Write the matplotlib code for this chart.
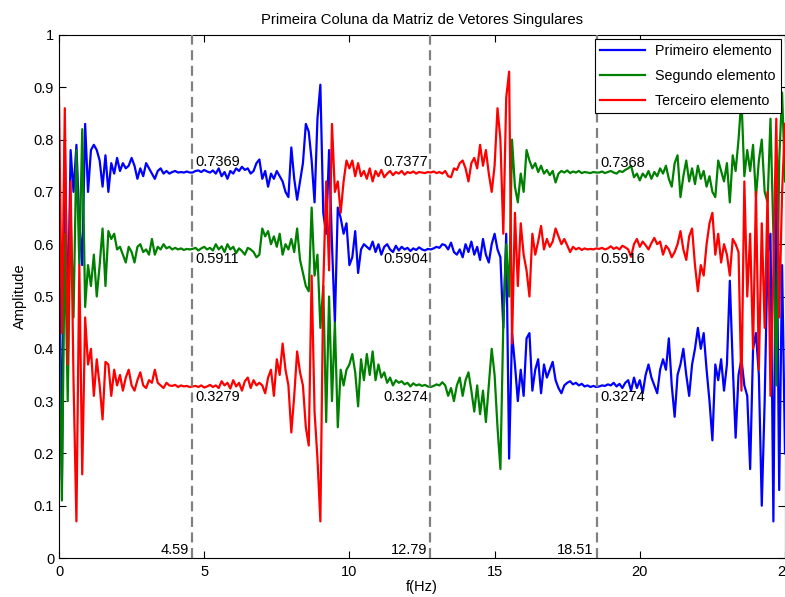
import numpy as np
import matplotlib.pyplot as plt

# frequency grid (Hz), one sample every 0.1 Hz
freq = np.linspace(0, 25, 251)

# first column of the singular-vector matrix
primeiro = [
    0.66, 0.15, 0.80, 0.45, 0.78, 0.70, 0.79, 0.64, 0.56, 0.83,
    0.70, 0.78, 0.79, 0.78, 0.76, 0.71, 0.77, 0.70, 0.755, 0.735,
    0.765, 0.74, 0.755, 0.745, 0.75, 0.765, 0.75, 0.725, 0.745, 0.73,
    0.755, 0.745, 0.735, 0.725, 0.74, 0.745, 0.735, 0.74, 0.735, 0.738,
    0.74, 0.737, 0.738, 0.737, 0.739, 0.737, 0.737, 0.74, 0.741, 0.738,
    0.742, 0.739, 0.737, 0.741, 0.735, 0.745, 0.73, 0.738, 0.725, 0.74,
    0.735, 0.745, 0.74, 0.748, 0.742, 0.745, 0.735, 0.74, 0.755, 0.762,
    0.725, 0.74, 0.71, 0.735, 0.725, 0.74, 0.73, 0.72, 0.70, 0.69,
    0.785, 0.725, 0.685, 0.72, 0.755, 0.83, 0.815, 0.76, 0.68, 0.84,
    0.905, 0.66, 0.62, 0.78, 0.60, 0.45, 0.67, 0.65, 0.62, 0.64,
    0.56, 0.575, 0.625, 0.545, 0.59, 0.60, 0.595, 0.59, 0.605, 0.585,
    0.60, 0.58, 0.595, 0.60, 0.59, 0.585, 0.597, 0.588, 0.595, 0.59,
    0.593, 0.587, 0.592, 0.589, 0.594, 0.59, 0.588, 0.591, 0.59, 0.592,
    0.595, 0.593, 0.60, 0.598, 0.59, 0.603, 0.585, 0.58, 0.59, 0.575,
    0.60, 0.585, 0.605, 0.58, 0.595, 0.57, 0.61, 0.58, 0.565, 0.60,
    0.62, 0.59, 0.575, 0.44, 0.62, 0.19, 0.43, 0.37, 0.30, 0.36,
    0.31, 0.42, 0.43, 0.32, 0.36, 0.38, 0.315, 0.37, 0.345, 0.36,
    0.375, 0.34, 0.325, 0.315, 0.33, 0.335, 0.338, 0.332, 0.335, 0.33,
    0.333, 0.328, 0.33, 0.327, 0.329, 0.327, 0.328, 0.33, 0.329, 0.332,
    0.33, 0.335, 0.328, 0.333, 0.325, 0.335, 0.34, 0.32, 0.345, 0.325,
    0.34, 0.315, 0.35, 0.37, 0.345, 0.33, 0.315, 0.36, 0.38, 0.36,
    0.42, 0.33, 0.27, 0.35, 0.37, 0.40, 0.35, 0.31, 0.37, 0.40,
    0.44, 0.40, 0.43, 0.36, 0.30, 0.225, 0.37, 0.34, 0.38, 0.32,
    0.37, 0.53, 0.37, 0.23, 0.35, 0.38, 0.33, 0.31, 0.17, 0.40,
    0.43, 0.35, 0.10, 0.30, 0.58, 0.62, 0.07, 0.74, 0.13, 0.56,
    0.20,
]

segundo = [
    0.45, 0.11, 0.62, 0.30, 0.66, 0.46, 0.78, 0.56, 0.82, 0.48,
    0.56, 0.52, 0.58, 0.50, 0.56, 0.63, 0.52, 0.625, 0.61, 0.62,
    0.59, 0.595, 0.58, 0.565, 0.595, 0.585, 0.565, 0.595, 0.60, 0.585,
    0.59, 0.58, 0.61, 0.58, 0.595, 0.59, 0.60, 0.592, 0.595, 0.59,
    0.593, 0.59, 0.592, 0.589, 0.591, 0.59, 0.591, 0.593, 0.588, 0.592,
    0.595, 0.59, 0.593, 0.588, 0.60, 0.59, 0.596, 0.585, 0.60, 0.59,
    0.595, 0.583, 0.592, 0.587, 0.58, 0.593, 0.59, 0.585, 0.575, 0.58,
    0.63, 0.615, 0.625, 0.60, 0.615, 0.595, 0.62, 0.58, 0.60, 0.59,
    0.61, 0.585, 0.63, 0.57, 0.545, 0.52, 0.51, 0.67, 0.54, 0.58,
    0.44, 0.52, 0.26, 0.50, 0.30, 0.45, 0.25, 0.36, 0.33, 0.36,
    0.37, 0.39, 0.355, 0.29, 0.38, 0.34, 0.39, 0.35, 0.395, 0.34,
    0.37, 0.345, 0.355, 0.335, 0.345, 0.33, 0.34, 0.335, 0.338, 0.332,
    0.335, 0.328, 0.334, 0.33, 0.332, 0.329, 0.331, 0.328, 0.327, 0.329,
    0.332, 0.33, 0.336, 0.33, 0.31, 0.325, 0.30, 0.33, 0.345, 0.31,
    0.34, 0.355, 0.32, 0.28, 0.33, 0.275, 0.32, 0.26, 0.33, 0.40,
    0.35, 0.25, 0.17, 0.45, 0.60, 0.50, 0.80, 0.71, 0.68, 0.735,
    0.70, 0.78, 0.76, 0.745, 0.755, 0.738, 0.75, 0.735, 0.742, 0.732,
    0.74, 0.718, 0.735, 0.74, 0.737, 0.741, 0.736, 0.739, 0.737, 0.74,
    0.736, 0.738, 0.737, 0.736, 0.738, 0.737, 0.737, 0.739, 0.736, 0.738,
    0.74, 0.737, 0.735, 0.74, 0.738, 0.742, 0.745, 0.75, 0.728, 0.735,
    0.722, 0.735, 0.728, 0.74, 0.725, 0.738, 0.73, 0.745, 0.735, 0.75,
    0.725, 0.71, 0.755, 0.77, 0.69, 0.73, 0.76, 0.72, 0.745, 0.715,
    0.75, 0.725, 0.74, 0.71, 0.73, 0.70, 0.69, 0.76, 0.74, 0.72,
    0.755, 0.68, 0.77, 0.74, 0.80, 0.88, 0.73, 0.78, 0.74, 0.79,
    0.69, 0.76, 0.80, 0.70, 0.68, 0.84, 0.62, 0.33, 0.76, 0.89,
    0.72,
]

terceiro = [
    0.88, 0.43, 0.86, 0.37, 0.72, 0.34, 0.07, 0.56, 0.16, 0.46,
    0.37, 0.40, 0.31, 0.38, 0.33, 0.265, 0.375, 0.37, 0.31, 0.36,
    0.33, 0.35, 0.32, 0.345, 0.36, 0.33, 0.32, 0.34, 0.355, 0.33,
    0.325, 0.34, 0.335, 0.36, 0.335, 0.33, 0.325, 0.335, 0.33, 0.329,
    0.331, 0.327, 0.33, 0.328, 0.329, 0.327, 0.328, 0.329, 0.327, 0.33,
    0.326, 0.328, 0.331, 0.327, 0.33, 0.325, 0.338, 0.33, 0.335, 0.324,
    0.34, 0.328, 0.335, 0.32, 0.338, 0.345, 0.325, 0.34, 0.33, 0.335,
    0.33, 0.315, 0.345, 0.36, 0.31, 0.38, 0.35, 0.41, 0.36, 0.33,
    0.24, 0.31, 0.395, 0.355, 0.33, 0.25, 0.215, 0.54, 0.28, 0.19,
    0.07, 0.52, 0.72, 0.55, 0.83, 0.70, 0.72, 0.66, 0.72, 0.76,
    0.745, 0.76, 0.73, 0.755, 0.73, 0.74, 0.725, 0.745, 0.72, 0.74,
    0.73, 0.742, 0.728, 0.735, 0.74, 0.732, 0.738, 0.735, 0.74, 0.733,
    0.738, 0.736, 0.739, 0.735, 0.738, 0.737, 0.736, 0.738, 0.737, 0.739,
    0.736, 0.738, 0.735, 0.74, 0.73, 0.728, 0.745, 0.742, 0.755, 0.76,
    0.745, 0.72, 0.755, 0.765, 0.745, 0.79, 0.75, 0.78, 0.735, 0.70,
    0.75, 0.86, 0.80, 0.62, 0.88, 0.93, 0.41, 0.66, 0.52, 0.64,
    0.58, 0.55, 0.50, 0.62, 0.58, 0.605, 0.635, 0.59, 0.61, 0.595,
    0.605, 0.63, 0.615, 0.60, 0.61, 0.598, 0.585, 0.595, 0.59, 0.593,
    0.589, 0.592, 0.59, 0.591, 0.59, 0.592, 0.591, 0.593, 0.59, 0.592,
    0.596, 0.591, 0.594, 0.59, 0.597, 0.594, 0.59, 0.576, 0.60, 0.61,
    0.595, 0.605, 0.598, 0.59, 0.602, 0.612, 0.60, 0.605, 0.58, 0.597,
    0.59, 0.575, 0.585, 0.60, 0.625, 0.59, 0.57, 0.615, 0.63, 0.56,
    0.51, 0.56, 0.54, 0.60, 0.64, 0.66, 0.58, 0.62, 0.565, 0.60,
    0.58, 0.54, 0.61, 0.60, 0.585, 0.32, 0.72, 0.50, 0.62, 0.40,
    0.70, 0.36, 0.64, 0.44, 0.70, 0.31, 0.55, 0.84, 0.46, 0.70,
    0.83,
]

series_names = ["Primeiro elemento", "Segundo elemento", "Terceiro elemento"]
series_colors = ["#0000ff", "#008000", "#ff0000"]

# separating frequencies and the mean level of each branch between them
cut_freqs = [4.59, 12.79, 18.51]
levels = [
    [0.7369, 0.5911, 0.3279],
    [0.7377, 0.5904, 0.3274],
    [0.7368, 0.5916, 0.3274],
]

plt.rcParams['font.family'] = ['Liberation Sans', 'DejaVu Sans']
plt.rcParams['font.size'] = 10.5

fig = plt.figure(figsize=(7.85, 5.97), dpi=100)
ax = fig.add_axes([59 / 785, 39 / 597, 726 / 785, 523 / 597])

for vals, name, col in zip([primeiro, segundo, terceiro], series_names, series_colors):
    ax.plot(freq, vals, color=col, lw=1.6, label=name)

for fc, lv in zip(cut_freqs, levels):
    ax.axvline(fc, color='#808080', lw=1.6, ls=(0, (4.5, 2.5)), zorder=3)
    # labels go right of the line, except the middle one (left of it)
    if fc == 12.79:
        xt, ha = fc - 0.08, 'right'
    else:
        xt, ha = fc + 0.12, 'left'
    ax.text(xt, lv[0] + 0.006, f"{lv[0]:.4f}", ha=ha, va='bottom')
    ax.text(xt, lv[1] - 0.006, f"{lv[1]:.4f}", ha=ha, va='top')
    ax.text(xt, lv[2] - 0.006, f"{lv[2]:.4f}", ha=ha, va='top')
    ax.text(fc - 0.1, 0.002, f"{fc:.2f}", ha='right', va='bottom')

ax.set_xlim(0, 25)
ax.set_ylim(0, 1)
ax.set_xticks([0, 5, 10, 15, 20, 25])
ax.set_yticks(np.arange(0, 1.01, 0.1))
ax.set_yticklabels(["0", "0.1", "0.2", "0.3", "0.4", "0.5", "0.6", "0.7", "0.8", "0.9", "1"])
ax.tick_params(direction='in', top=True, right=True, length=5, width=0.8)
ax.tick_params(axis='x', pad=5)
for sp in ax.spines.values():
    sp.set_linewidth(0.8)

ax.set_title("Primeira Coluna da Matriz de Vetores Singulares", fontsize=10.7, pad=8)
ax.set_xlabel("f(Hz)", labelpad=1)
ax.set_ylabel("Amplitude", labelpad=5)

leg = ax.legend(loc='upper right', fancybox=False, edgecolor='black', framealpha=1,
                fontsize=10.3, handlelength=3.15, handletextpad=0.7,
                borderaxespad=0.3, labelspacing=0.75, borderpad=0.35)
leg.get_frame().set_linewidth(0.8)

fig.savefig("out.png", dpi=100)
